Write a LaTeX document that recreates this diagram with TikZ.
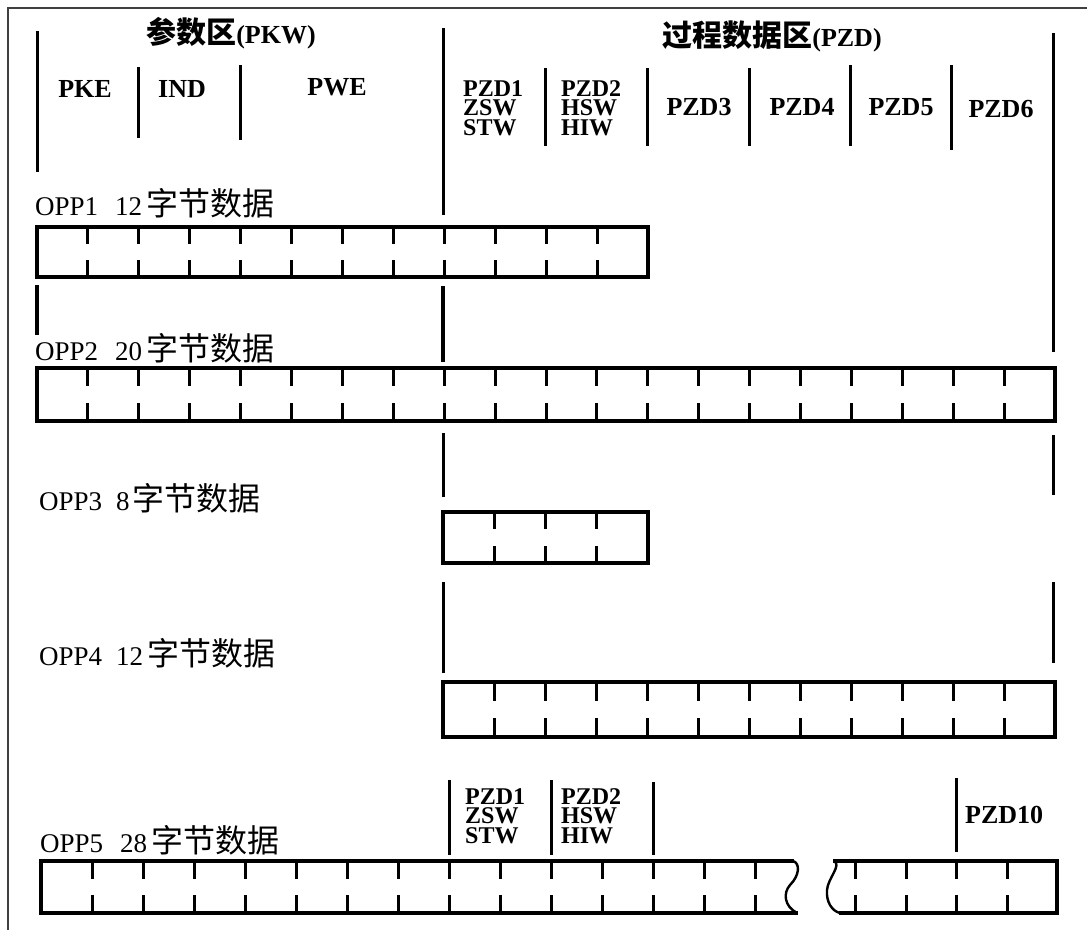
\documentclass[tikz,border=0pt]{standalone}
\usepackage{fontspec}
\setmainfont{Liberation Serif}
\newfontfamily\cjk{Noto Sans CJK SC}
\newcommand\zh[1]{{\cjk\fontsize{30}{30}\selectfont #1}}
\newcommand\zhl[1]{{\cjk\fontsize{32}{32}\selectfont #1}}
\newcommand\celltick[5]{%
  \pgfmathsetmacro\tickh{(#5-#4)*0.34}%
  \foreach \i in {1,...,#3}{%
    \draw[tick] ({#1+\i*#2},#4) -- ++(0,\tickh);
    \draw[tick] ({#1+\i*#2},#5) -- ++(0,-\tickh);
  }%
}
\begin{document}
\begin{tikzpicture}[x=1pt,y=-1pt]
\tikzset{
  frame/.style={line width=1.5pt, draw=black!75},
  bar/.style={line width=3.6pt, line join=miter},
  wave/.style={line width=2.4pt},
  tick/.style={line width=3pt},
  vline/.style={line width=3pt},
  vthick/.style={line width=4pt},
  hc/.style={anchor=base, inner sep=0pt, font=\fontsize{26}{26}\selectfont\bfseries},
  stack/.style={anchor=north west, inner sep=0pt, align=left, font=\fontsize{24}{19.5}\selectfont\bfseries},
  lbl/.style={anchor=base west, inner sep=0pt, font=\fontsize{27}{27}\selectfont},
  ttl/.style={inner sep=0pt, font=\fontsize{26}{26}\selectfont\bfseries},
}
\useasboundingbox (0,0) rectangle (1087,930);
\fill[white] (0,0) rectangle (1087,930);
% frame
\draw[frame] (8,930) -- (8,8) -- (1087,8);

% titles
\node[ttl] (t1) at (231,33) {\zh{参数区}(PKW)};
\node[ttl] (t2) at (772,36) {\zh{过程数据区}(PZD)};

% header verticals
\draw[vline] (37,31) -- (37,172);
\draw[vline] (138,67) -- (138,138);
\draw[vline] (240,65) -- (240,140);
\draw[vline] (443,28) -- (443,215);
\draw[vline] (545,68) -- (545,146);
\draw[vline] (647,68) -- (647,146);
\draw[vline] (749,68) -- (749,146);
\draw[vline] (850,65) -- (850,146);
\draw[vline] (951,65) -- (951,150);
\draw[vline] (1053,33) -- (1053,352);

% header labels
\node[hc] (pke) at (85,97) {PKE};
\node[hc] (ind) at (182,97) {IND};
\node[hc] (pwe) at (337,95) {PWE};
\node[stack] (h1) at (463,80) {PZD1\\ZSW\\STW};
\node[stack] (h2) at (561,80) {PZD2\\HSW\\HIW};
\node[hc] (p3) at (699,115) {PZD3};
\node[hc] (p4) at (802,115) {PZD4};
\node[hc] (p5) at (901,115) {PZD5};
\node[hc] (p6) at (1001,117) {PZD6};

% OPP1
\node[lbl] (l1) at (35,215) {OPP1\hspace{17pt}12\hspace{4pt}\zhl{字节数据}};
\draw[bar] (37,227) rectangle (648,277);
\celltick{37}{50.917}{11}{227}{277}

\draw[vthick] (37,285) -- (37,335);
\draw[vthick] (443,286) -- (443,362);

% OPP2
\node[lbl] (l2) at (35,360) {OPP2\hspace{17pt}20\hspace{4pt}\zhl{字节数据}};
\draw[bar] (37,368) rectangle (1055,421);
\celltick{37}{50.9}{19}{368}{421}

\draw[vline] (443,433) -- (443,497);
\draw[vline] (1053,435) -- (1053,495);

% OPP3
\node[lbl] (l3) at (39,510) {OPP3\hspace{14pt}8\hspace{3pt}\zhl{字节数据}};
\draw[bar] (443,512) rectangle (648,563);
\celltick{443}{51.25}{3}{512}{563}

\draw[vline] (443,582) -- (443,673);
\draw[vline] (1053,582) -- (1053,663);

% OPP4
\node[lbl] (l4) at (39,665) {OPP4\hspace{14pt}12\hspace{4pt}\zhl{字节数据}};
\draw[bar] (443,682) rectangle (1055,737);
\celltick{443}{51}{11}{682}{737}

% OPP5
\node[lbl] (l5) at (40,852) {OPP5\hspace{17pt}28\hspace{4pt}\zhl{字节数据}};
\draw[vline] (449,780) -- (449,855);
\draw[vline] (551,780) -- (551,855);
\draw[vline] (653,782) -- (653,855);
\draw[vline] (956,778) -- (956,852);
\node[stack] (q1) at (465,788) {PZD1\\ZSW\\STW};
\node[stack] (q2) at (561,788) {PZD2\\HSW\\HIW};
\node[lbl,font=\fontsize{26}{26}\selectfont\bfseries] (q10) at (965,823) {PZD10};

\draw[bar] (794,861) -- (41,861) -- (41,913) -- (798,913);
\draw[wave] (793,861) .. controls (800,863) and (800,875) .. (790,885)
            .. controls (783,893) and (784,906) .. (797,913);
\celltick{41}{51}{14}{861}{913}
\draw[bar] (833,861) -- (1057,861) -- (1057,913) -- (839,913);
\draw[wave] (834,861) .. controls (842,865) and (828,878) .. (827,890)
            .. controls (826,902) and (832,911) .. (840,913);
\celltick{805}{50.5}{4}{861}{913}
\end{tikzpicture}
\end{document}
